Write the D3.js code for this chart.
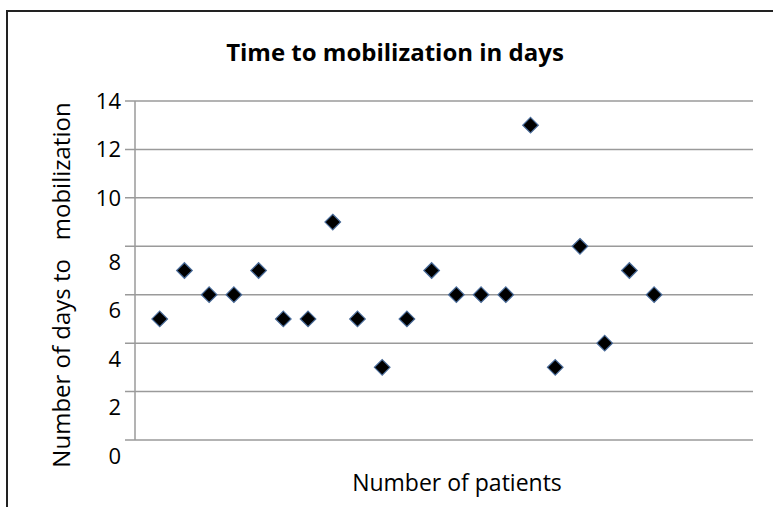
<!DOCTYPE html>
<html>
<head>
<meta charset="utf-8">
<script src="https://cdn.jsdelivr.net/npm/d3@7"></script>
<style>
  body { margin: 0; background: #fff; }
  text { font-family: "Open Sans", Lato, sans-serif; fill: #000; }
</style>
</head>
<body>
<div id="chart"></div>
<script>
// data: one value per patient
var patients = d3.range(1, 22);
var daysToMobilization = [5, 7, 6, 6, 7, 5, 5, 9, 5, 3, 5, 7, 6, 6, 6, 13, 3, 8, 4, 7, 6];
var yTicks = [0, 2, 4, 6, 8, 10, 12, 14];

var titleText = "Time to mobilization in days";
var xLabel = "Number of patients";
var yLabel = "Number of days to \u00a0 mobilization";

var W = 773, H = 507;
var plot = {left: 135, right: 753, top: 101, bottom: 440};

var svg = d3.select("#chart").append("svg")
    .attr("width", W)
    .attr("height", H);

// outer frame (only left/top visible in the picture)
svg.append("rect")
    .attr("x", 7).attr("y", 11)
    .attr("width", W + 20).attr("height", H + 20)
    .attr("fill", "none")
    .attr("stroke", "#222")
    .attr("stroke-width", 2);

var xScale = d3.scaleLinear().domain([0, 25]).range([plot.left, plot.right]);
var yScale = d3.scaleLinear().domain([0, 14]).range([plot.bottom, plot.top]);

// gridlines
svg.append("g")
    .selectAll("line")
    .data(yTicks)
    .enter().append("line")
        .attr("x1", plot.left - 10)
        .attr("x2", plot.right)
        .attr("y1", d => yScale(d))
        .attr("y2", d => yScale(d))
        .attr("stroke", "#9a9a9a")
        .attr("stroke-width", 1.5);

// y axis line
svg.append("line")
    .attr("x1", plot.left).attr("x2", plot.left)
    .attr("y1", yScale(14)).attr("y2", yScale(0))
    .attr("stroke", "#9a9a9a")
    .attr("stroke-width", 1.5);

// tick labels (the lower ones sit a bit below their line in the original)
svg.append("g")
    .selectAll("text")
    .data(yTicks)
    .enter().append("text")
        .attr("x", 121)
        .attr("y", d => yScale(d) + (d <= 8 ? 16 : 0))
        .attr("dy", "0.35em")
        .attr("text-anchor", "end")
        .style("font-size", "22px")
        .text(d => d);

// title
svg.append("text")
    .attr("x", 395)
    .attr("y", 61)
    .attr("text-anchor", "middle")
    .style("font-size", "24px")
    .style("font-weight", "bold")
    .text(titleText);

// axis labels
svg.append("text")
    .attr("x", 457)
    .attr("y", 491)
    .attr("text-anchor", "middle")
    .style("font-size", "23px")
    .text(xLabel);

svg.append("text")
    .attr("transform", "translate(70,285) rotate(-90)")
    .attr("text-anchor", "middle")
    .style("font-size", "24px")
    .text(yLabel);

// diamond markers
var diamond = d3.symbol().type(d3.symbolDiamond2).size(155);
svg.append("g")
    .selectAll("path")
    .data(patients)
    .enter().append("path")
        .attr("d", diamond)
        .attr("transform", (d, i) => "translate(" + xScale(d) + "," + yScale(daysToMobilization[i]) + ")")
        .attr("fill", "#000")
        .attr("stroke", "#4a6c9a")
        .attr("stroke-width", 1.2);
</script>
</body>
</html>
